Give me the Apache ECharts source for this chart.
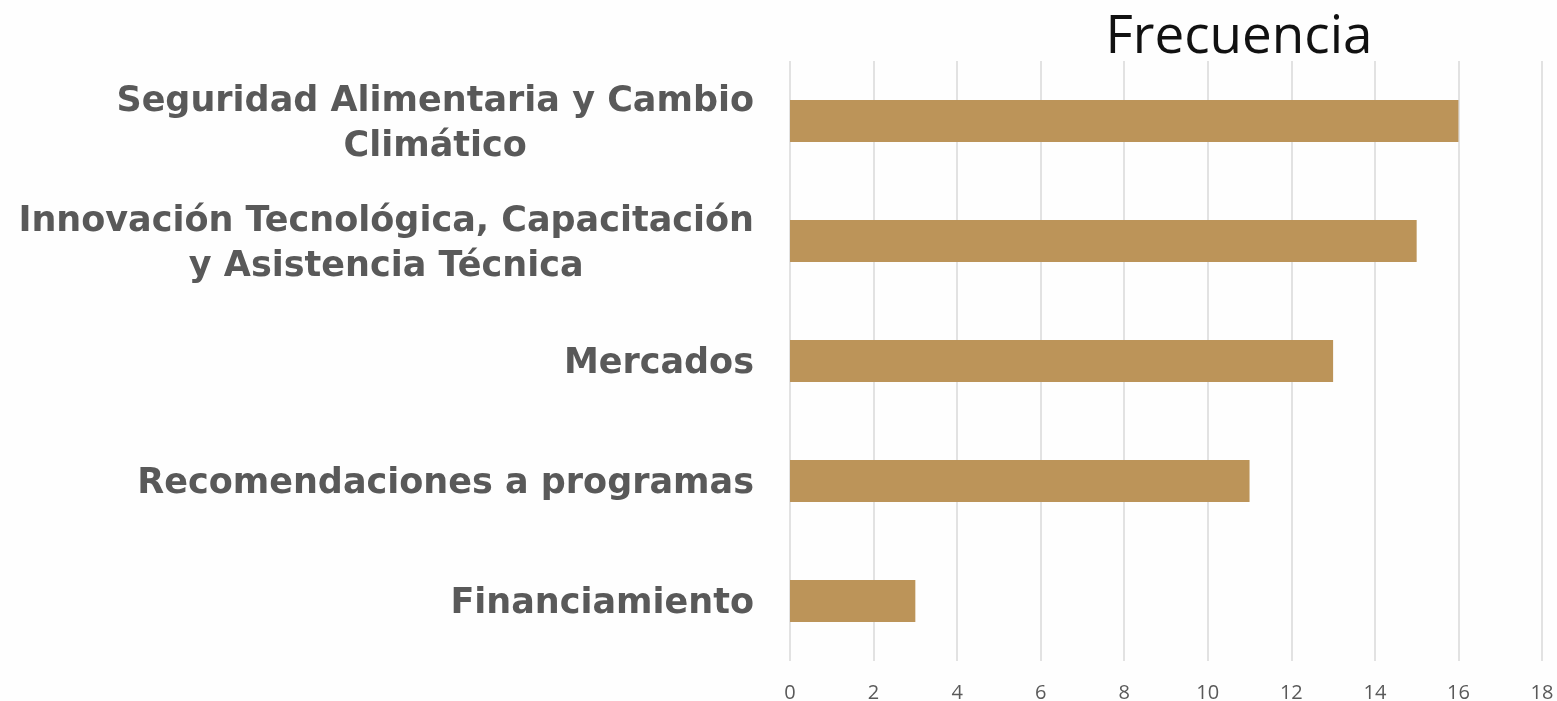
<!DOCTYPE html>
<html lang="es">
<head>
    <meta charset="UTF-8">
    <title>Frecuencia</title>
    <script src="https://cdn.jsdelivr.net/npm/echarts@6/dist/echarts.min.js"></script>
    <style>
        html, body { margin: 0; padding: 0; background: #fefefe; }
        #main { width: 1557px; height: 701px; }
    </style>
</head>
<body>
<div id="main"></div>
<script type="text/javascript">
// datos (de abajo hacia arriba en el eje)
var categories = [
    'Financiamiento',
    'Recomendaciones a programas',
    'Mercados',
    'Innovación Tecnológica, Capacitación\ny Asistencia Técnica',
    'Seguridad Alimentaria y Cambio\nClimático'
];
var values = [3, 11, 13, 15, 16];
var xTicks = [0, 2, 4, 6, 8, 10, 12, 14, 16, 18];

var chart = echarts.init(document.getElementById('main'));
var option = {
    backgroundColor: '#fefefe',
    animation: false,
    title: {
        text: 'Frecuencia',
        left: 1234,
        top: 6,
        textAlign: 'center',
        textStyle: {
            fontFamily: 'Open Sans',
            fontWeight: 'normal',
            fontSize: 53,
            color: '#111'
        }
    },
    grid: {
        left: 790,
        right: 15,
        top: 61,
        bottom: 40,
        containLabel: false,
        outerBoundsMode: 'none'
    },
    xAxis: {
        type: 'value',
        min: xTicks[0],
        max: xTicks[xTicks.length - 1],
        interval: 2,
        axisLine: { show: false },
        axisTick: { show: false },
        splitLine: { lineStyle: { color: '#d9d9d9', width: 1.5 } },
        axisLabel: {
            margin: 22,
            fontFamily: 'Open Sans',
            fontSize: 20,
            color: '#595959'
        }
    },
    yAxis: {
        type: 'category',
        data: categories,
        axisLine: { show: false },
        axisTick: { show: false },
        axisLabel: {
            margin: 36,
            padding: [6, 0, 0, 0],
            formatter: function (v) {
                return v.split('\n').map(function (s) { return '{c|' + s + '}'; }).join('\n');
            },
            rich: {
                c: {
                    align: 'center',
                    fontFamily: 'DejaVu Sans',
                    fontWeight: 'bold',
                    fontSize: 35,
                    lineHeight: 45,
                    color: '#595959'
                }
            }
        }
    },
    series: [{
        type: 'bar',
        data: values,
        barWidth: 42,
        itemStyle: { color: '#bc9459' }
    }]
};
chart.setOption(option);
</script>
</body>
</html>
